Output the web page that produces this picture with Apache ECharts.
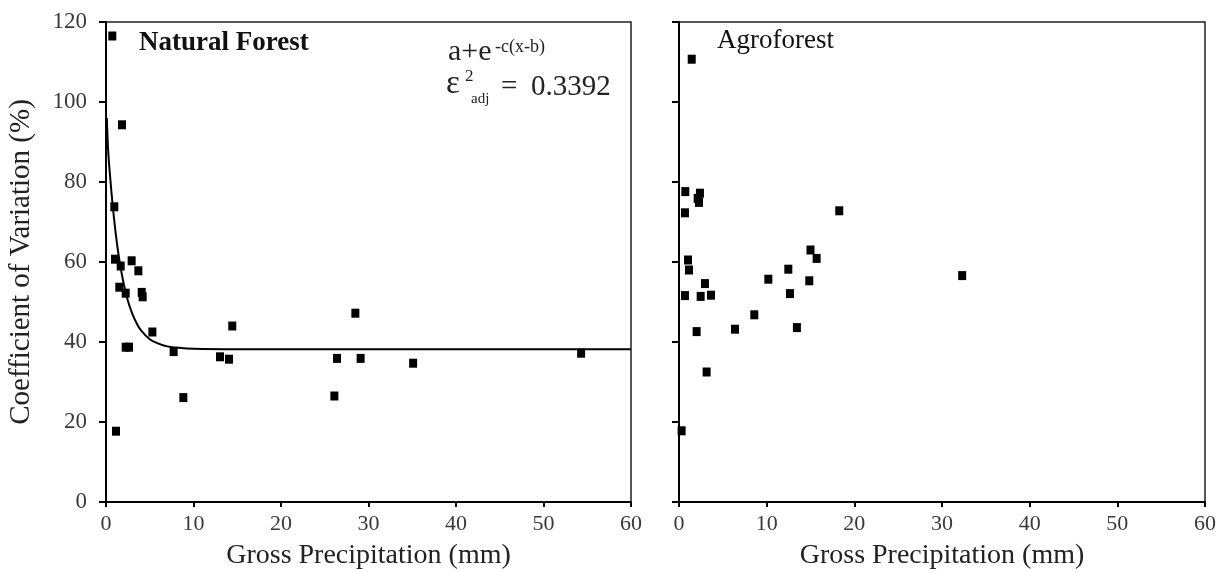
<!DOCTYPE html>
<html>
<head>
<meta charset="utf-8">
<script src="https://cdn.jsdelivr.net/npm/echarts@6/dist/echarts.min.js"></script>
<style>html,body{margin:0;padding:0;background:#fff}#c{width:1223px;height:572px}</style>
</head>
<body>
<div id="c"></div>
<script>
// Natural Forest observations
const natX = [0.72, 1.83, 0.95, 1.03, 1.68, 1.52, 2.25, 2.93, 3.7, 4.08, 4.19, 5.3, 2.25, 2.63, 7.73, 8.84, 13.03, 14.06, 14.43, 1.14, 28.5, 26.4, 29.1, 26.1, 35.1, 54.3];
const natY = [116.5, 94.3, 73.8, 60.7, 59.0, 53.7, 52.2, 60.3, 57.8, 52.4, 51.3, 42.5, 38.7, 38.7, 37.6, 26.1, 36.3, 35.7, 44.0, 17.7, 47.2, 35.9, 35.9, 26.5, 34.7, 37.2];
// Agroforest observations
const agrX = [1.45, 0.72, 2.39, 2.13, 2.28, 0.68, 18.28, 1.03, 1.14, 15.0, 15.7, 12.47, 10.19, 14.86, 2.96, 0.68, 2.47, 3.65, 12.66, 8.59, 2.01, 6.39, 13.45, 3.15, 0.3, 32.3];
const agrY = [110.7, 77.6, 77.2, 75.9, 74.9, 72.3, 72.8, 60.5, 58.0, 63.0, 60.9, 58.2, 55.7, 55.3, 54.6, 51.6, 51.4, 51.7, 52.1, 46.8, 42.6, 43.2, 43.6, 32.5, 17.8, 56.6];
// Fitted curve
const fitX = [0.1, 0.25, 0.5, 0.75, 1, 1.25, 1.5, 2, 2.5, 3, 3.5, 4, 5, 6, 7, 8, 10, 15, 60];
const fitY = [96.0, 87.8, 80.6, 74.5, 69.2, 64.7, 60.9, 54.8, 50.3, 47.1, 44.7, 42.9, 40.7, 39.6, 38.9, 38.6, 38.3, 38.2, 38.2];

const xTicks = [0, 10, 20, 30, 40, 50, 60];
const yTicks = [0, 20, 40, 60, 80, 100, 120];

const FONT = "'Liberation Serif', 'DejaVu Serif', serif";
const zip = (a, b) => a.map((v, i) => [v, b[i]]);

const xAxisBase = (gi) => ({
  type: 'value', gridIndex: gi, min: xTicks[0], max: xTicks[xTicks.length - 1], interval: 10,
  name: 'Gross Precipitation (mm)', nameLocation: 'middle', nameGap: 40,
  nameTextStyle: { fontFamily: FONT, fontSize: 28, color: '#222' },
  axisLine: { show: true, lineStyle: { color: '#000', width: 2 } },
  axisTick: { show: true, inside: false, length: 5, lineStyle: { color: '#000', width: 2 } },
  axisLabel: { fontFamily: FONT, fontSize: 22, color: '#3a3a3a', margin: 11, showMinLabel: true, showMaxLabel: true },
  splitLine: { show: false }
});
const yAxisBase = (gi, labels) => ({
  type: 'value', gridIndex: gi, min: yTicks[0], max: yTicks[yTicks.length - 1], interval: 20,
  name: labels ? 'Coefficient of Variation (%)' : '', nameLocation: 'middle', nameGap: 70,
  nameTextStyle: { fontFamily: FONT, fontSize: 29, color: '#222' },
  axisLine: { show: true, lineStyle: { color: '#000', width: 2 } },
  axisTick: { show: true, inside: false, length: 7, lineStyle: { color: '#000', width: 2 } },
  axisLabel: { show: labels, fontFamily: FONT, fontSize: 23, color: '#3a3a3a', margin: 19 },
  splitLine: { show: false }
});

const chart = echarts.init(document.getElementById('c'), null, { renderer: 'canvas' });
chart.setOption({
  animation: false,
  backgroundColor: '#fff',
  grid: [
    { left: 106, top: 22, width: 525, height: 480, show: true, borderColor: '#222', borderWidth: 1.5, backgroundColor: 'transparent', outerBoundsMode: 'none', containLabel: false },
    { left: 679, top: 22, width: 526, height: 480, show: true, borderColor: '#222', borderWidth: 1.5, backgroundColor: 'transparent', outerBoundsMode: 'none', containLabel: false }
  ],
  xAxis: [xAxisBase(0), xAxisBase(1)],
  yAxis: [yAxisBase(0, true), yAxisBase(1, false)],
  series: [
    { type: 'line', xAxisIndex: 0, yAxisIndex: 0, data: zip(fitX, fitY), showSymbol: false, smooth: 0.4,
      lineStyle: { color: '#000', width: 2 }, z: 2 },
    { type: 'scatter', xAxisIndex: 0, yAxisIndex: 0, data: zip(natX, natY), symbol: 'rect', symbolSize: [8, 9],
      itemStyle: { color: '#000', opacity: 1 }, z: 3 },
    { type: 'scatter', xAxisIndex: 1, yAxisIndex: 1, data: zip(agrX, agrY), symbol: 'rect', symbolSize: [8, 9],
      itemStyle: { color: '#000', opacity: 1 }, z: 3 }
  ],
  graphic: [
    { type: 'text', x: 139, y: 43, style: { text: 'Natural Forest', font: "bold 27px " + FONT, fill: '#111', verticalAlign: 'middle' } },
    { type: 'text', x: 717, y: 41, style: { text: 'Agroforest', font: "27px " + FONT, fill: '#111', verticalAlign: 'middle' } },
    { type: 'text', x: 448, y: 52, style: { text: 'a+e', font: "30px " + FONT, fill: '#222', verticalAlign: 'middle' } },
    { type: 'text', x: 495, y: 47, style: { text: '-c(x-b)', font: "18px " + FONT, fill: '#222', verticalAlign: 'middle' } },
    { type: 'text', x: 446, y: 84, style: { text: 'ε', font: "33px " + FONT, fill: '#222', verticalAlign: 'middle' } },
    { type: 'text', x: 465, y: 77, style: { text: '2', font: "17px " + FONT, fill: '#222', verticalAlign: 'middle' } },
    { type: 'text', x: 471, y: 99, style: { text: 'adj', font: "15px " + FONT, fill: '#222', verticalAlign: 'middle' } },
    { type: 'text', x: 501, y: 87, style: { text: '=', font: "29px " + FONT, fill: '#222', verticalAlign: 'middle' } },
    { type: 'text', x: 531, y: 87, style: { text: '0.3392', font: "29px " + FONT, fill: '#222', verticalAlign: 'middle' } }
  ]
});
</script>
</body>
</html>
